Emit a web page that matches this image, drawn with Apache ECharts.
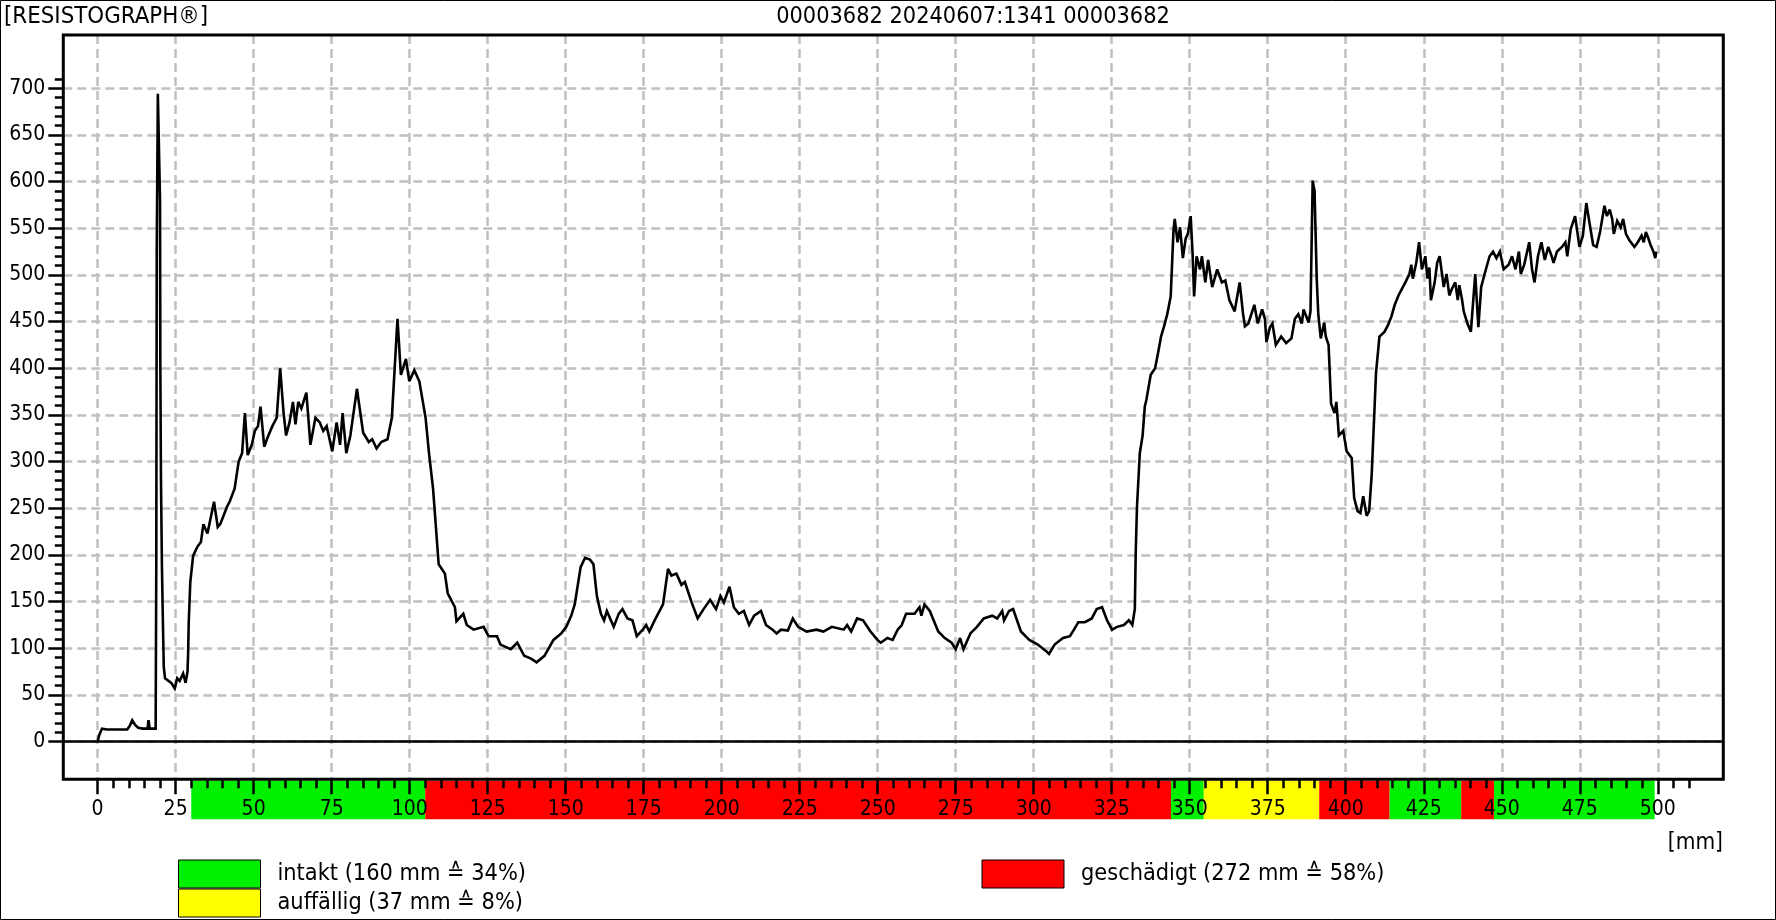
<!DOCTYPE html>
<html><head><meta charset="utf-8">
<script src="https://cdn.jsdelivr.net/npm/echarts@6/dist/echarts.min.js"></script>
<style>html,body{margin:0;padding:0;background:#fff}#c{width:1776px;height:920px}</style>
</head><body><div id="c"></div>
<script>
const headerLeft = '[RESISTOGRAPH®]';
const headerCenter = '00003682 20240607:1341 00003682';
const unitLabel = '[mm]';

const depthMm = [
0,0.5,1.4,3,5,7,9.5,10.3,11.1,12,
13,14.5,16,16.3,16.7,18.6,18.8,18.95,19.3,19.8,
20.0,20.1,20.3,20.6,20.9,21.2,21.6,23.6,24.7,25.5,
26.3,27.4,28.2,28.8,29.0,29.2,29.7,30.6,32.0,33.1,
33.9,35.2,37.3,38.5,39.3,41.5,42.3,43.9,45.2,46.3,
47.2,48.1,49.4,50.4,51.4,52.2,53.4,54.5,56.0,57.4,
58.5,59.6,60.4,61.5,62.6,63.4,64.3,65.3,66.9,68.2,
69.8,71.2,72.3,73.4,75.2,76.6,77.7,78.5,79.7,81.0,
83.1,83.6,85.1,86.9,88.0,89.4,90.9,92.9,94.3,96.1,
97.2,98.8,99.9,101.5,103.1,105.1,106.2,107.5,109.3,111.3,
112.2,114.5,115.0,117.2,118.3,120.5,123.7,125.3,128.0,129.1,
132.4,134.5,136.7,138.9,140.7,143.2,146.1,148.6,150.2,151.8,
152.9,154.8,156.2,157.8,158.9,160.0,161.3,162.3,163.2,165.4,
167.0,168.2,169.8,171.4,172.8,174.7,175.8,176.8,178.5,181.2,
182.8,183.9,185.5,187.1,188.2,190.4,192.3,194.2,196.3,198.2,
199.6,200.7,202.5,203.9,205.5,207.1,208.8,210.4,212.6,214.2,
216.3,217.6,219.0,221.2,222.8,224.5,227.2,230.4,232.6,235.3,
239.1,240.2,241.5,243.4,245.3,247.7,249.9,251.0,253.1,254.8,
256.4,257.7,259.1,261.8,263.4,264.0,265.0,266.7,269.4,271.5,
273.7,275.0,276.4,277.5,279.7,281.8,284.0,286.7,288.3,289.9,
290.5,292.1,293.4,295.9,298.6,301.3,304.0,304.9,306.7,309.4,
311.6,312.9,314.3,316.4,318.6,320.2,321.9,323.5,325.1,326.7,
328.9,330.5,331.6,332.4,332.7,333.1,334.0,334.9,335.6,336.1,
337.5,338.9,340.0,340.8,341.7,342.8,343.9,344.8,345.2,346.1,
346.9,347.8,348.7,349.4,350.3,350.9,351.4,352.2,353.3,353.9,
355.0,355.9,357.2,358.8,360.3,361.4,362.7,364.4,366.0,367.1,
367.7,368.8,370.7,371.8,373.2,374.1,374.6,375.7,376.5,377.6,
379.3,380.9,382.6,383.7,384.8,385.9,386.5,388.1,388.7,389.4,
390.0,390.7,391.2,392.0,393.1,393.6,394.5,395.3,396.4,397.0,
397.8,399.2,400.3,401.9,402.7,403.8,404.7,405.6,406.7,407.5,
408.3,409.1,409.7,410.8,412.4,413.5,414.6,415.7,416.9,419.1,
420.4,421.0,421.5,422.6,423.5,424.4,425.5,426.2,426.8,427.3,
428.5,429.3,430.1,431.4,432.3,433.2,434.0,435.1,435.9,436.4,
437.3,437.8,439.0,440.1,441.5,442.5,443.4,444.5,446.1,447.2,
448.3,449.4,450.6,452.2,453.3,454.4,455.5,456.1,457.2,458.8,
459.7,460.5,461.6,462.7,463.8,464.9,466.0,466.6,467.7,469.3,
470.4,471.0,472.1,473.5,474.9,476.0,477.1,478.2,479.3,480.4,
481.5,482.9,483.7,484.6,485.4,485.9,487.0,488.1,488.9,489.8,
490.9,492.5,493.6,494.8,495.5,496.2,497.0,497.7,498.6,499.2,
499.5];

const amplitude = [
0,7,14,13,13,13,13,17,23,18,
15,14,14,23,14,14,190,527,694,694,
580,402,281,190,132,80,68,63,57,68,
65,73,63,75,94,128,171,199,209,214,
233,223,257,230,233,252,257,271,300,309,
352,307,318,333,338,359,316,326,338,347,
400,352,328,342,364,340,364,357,374,318,
347,342,333,338,311,342,318,352,309,328,
378,378,331,321,324,314,321,324,347,453,
393,410,386,398,386,347,309,271,190,180,
159,144,129,137,125,120,123,113,113,104,
99,106,92,89,85,92,109,116,123,135,
147,187,197,195,190,156,137,130,140,123,
137,142,132,130,113,120,125,118,130,147,
185,178,180,168,171,149,132,142,152,142,
156,149,166,144,137,140,125,135,140,125,
120,116,120,119,132,123,118,120,118,123,
120,125,118,132,130,118,109,106,111,109,
120,125,137,137,144,135,147,140,118,111,
106,99,111,99,116,123,132,135,132,140,
130,140,142,118,109,104,97,94,104,111,
113,120,128,128,132,142,144,130,120,123,
125,130,125,142,204,252,309,328,359,366,
393,400,419,434,444,458,477,548,560,535,
551,518,539,544,563,524,477,520,506,520,
492,516,487,506,492,494,473,461,492,458,
445,448,468,448,463,453,428,444,448,425,
434,427,432,453,458,448,463,449,461,601,
590,496,458,432,449,434,425,362,352,364,
328,333,311,304,261,247,245,263,242,247,
285,347,395,434,439,446,455,468,478,492,
501,511,496,513,535,506,520,496,508,473,
492,513,520,487,501,478,485,492,473,489,
473,461,448,439,501,444,487,501,520,525,
518,525,506,511,520,506,525,501,511,535,
506,492,520,535,516,530,520,513,525,530,
535,520,549,563,530,542,577,554,532,530,
546,574,563,570,560,544,558,551,560,544,
537,530,535,542,535,546,539,532,525,518,
525];

const xTickLabels = [0,25,50,75,100,125,150,175,200,225,250,275,300,325,350,375,400,425,450,475,500];
const yTickLabels = [0,50,100,150,200,250,300,350,400,450,500,550,600,650,700];
const xMinorTicks = []; for (let v = 0; v <= 510; v += 5) xMinorTicks.push(v);
const yMinorTicks = []; for (let v = 0; v <= 710; v += 10) yMinorTicks.push(v);

const bandStart = [30, 105, 344, 354.5, 391.5, 414, 437, 447.5];
const bandEnd   = [105, 344, 354.5, 391.5, 414, 437, 447.5, 499];
const bandClass = ['intakt','geschädigt','intakt','auffällig','geschädigt','intakt','geschädigt','intakt'];

const classNames = ['intakt', 'auffällig', 'geschädigt'];
const classMm = [160, 37, 272];
const classPct = [34, 8, 58];
const classColors = ['#00f000', '#ffff00', '#ff0000'];

const FONT = '"DejaVu Sans Condensed", "DejaVu Sans", sans-serif';
const X_MIN = -11, X_MAX = 521, Y_MIN = -40.3, Y_MAX = 757;
const GL = 63.3, GT = 35, GW = 1660, GH = 744.3;

function renderBand(params, api) {
  const a = api.coord([api.value(0), 1]);
  const b = api.coord([api.value(1), 0]);
  return {type: 'rect', shape: {x: a[0], y: a[1], width: b[0] - a[0], height: b[1] - a[1]},
          style: {fill: api.visual('color')}};
}
function legendText(name) {
  const k = classNames.indexOf(name);
  return name + ' (' + classMm[k] + ' mm \u2259 ' + classPct[k] + '%)';
}
const tickStyle = {color: '#000', width: 2.5};
const gridLine = {color: '#c0c0c0', width: 2.5, type: [9, 5]};
const titleStyle = {fontSize: 23.3, fontWeight: 'normal', color: '#000', fontFamily: FONT, lineHeight: 24};
const legendBase = {
  orient: 'vertical', itemGap: 0, itemWidth: 82, itemHeight: 28, padding: 0, icon: 'rect',
  selectedMode: false, itemStyle: {borderColor: '#000', borderWidth: 1},
  textStyle: {fontSize: 23.3, color: '#000', fontFamily: FONT, padding: [0, 0, 0, 12]},
  formatter: legendText
};

const chart = echarts.init(document.getElementById('c'), null, {renderer: 'canvas'});
chart.setOption({
  animation: false,
  backgroundColor: '#fff',
  textStyle: {fontFamily: FONT},
  title: [
    {text: headerLeft, left: 4, top: 5, padding: 0, textStyle: Object.assign({}, titleStyle, {fontSize: 23.8})},
    {text: headerCenter, left: 973, top: 5, padding: 0, textAlign: 'center', textStyle: titleStyle},
    {text: unitLabel, left: 1723, top: 831, padding: 0, textAlign: 'right', textStyle: Object.assign({}, titleStyle, {fontSize: 22.5})}
  ],
  grid: [
    {left: GL, top: GT, width: GW, height: GH, show: true, borderColor: '#000', borderWidth: 3,
     backgroundColor: 'transparent', z: 3},
    {left: GL, top: 780.8, width: GW, height: 38.5, show: false}
  ],
  xAxis: [
    {gridIndex: 0, type: 'value', min: X_MIN, max: X_MAX, position: 'bottom', z: 1,
     axisLine: {show: false, onZero: false},
     axisTick: {show: true, length: 15, customValues: xTickLabels, lineStyle: tickStyle},
     axisLabel: {show: true, customValues: xTickLabels, margin: 30.2, verticalAlign: 'middle',
                 fontSize: 21, color: '#000', fontFamily: FONT},
     splitLine: {show: true, lineStyle: gridLine}},
    {gridIndex: 0, type: 'value', min: X_MIN, max: X_MAX, position: 'bottom', z: 1,
     axisLine: {show: false, onZero: false},
     axisTick: {show: true, length: 9, customValues: xMinorTicks, lineStyle: tickStyle},
     axisLabel: {show: false}, splitLine: {show: false}},
    {gridIndex: 1, type: 'value', min: X_MIN, max: X_MAX, show: false}
  ],
  yAxis: [
    {gridIndex: 0, type: 'value', min: Y_MIN, max: Y_MAX, position: 'left', z: 1,
     axisLine: {show: false, onZero: false},
     axisTick: {show: true, length: 15, customValues: yTickLabels, lineStyle: tickStyle},
     axisLabel: {show: true, customValues: yTickLabels, margin: 18, fontSize: 21, color: '#000', fontFamily: FONT},
     splitLine: {show: true, lineStyle: gridLine}},
    {gridIndex: 0, type: 'value', min: Y_MIN, max: Y_MAX, position: 'left', z: 1,
     axisLine: {show: false, onZero: false},
     axisTick: {show: true, length: 8.5, customValues: yMinorTicks, lineStyle: tickStyle},
     axisLabel: {show: false}, splitLine: {show: false}},
    {gridIndex: 1, type: 'value', min: 0, max: 1, show: false}
  ],
  legend: [
    Object.assign({}, legendBase, {data: ['intakt', 'auffällig'], left: 178, top: 859.5}),
    Object.assign({}, legendBase, {data: ['geschädigt'], left: 981.5, top: 859.5})
  ],
  series: [
    {type: 'line', name: 'Bohrwiderstand', xAxisIndex: 0, yAxisIndex: 0, z: 2,
     data: depthMm.map((x, i) => [x, amplitude[i]]),
     symbol: 'none', showSymbol: false, smooth: false,
     lineStyle: {color: '#000', width: 2.6, join: 'miter', miterLimit: 3}, itemStyle: {color: '#000'},
     markLine: {silent: true, symbol: 'none', animation: false, label: {show: false},
                lineStyle: {color: '#000', width: 2.5, type: 'solid'}, data: [{yAxis: 0}]}}
  ].concat(classNames.map((nm, k) => ({
    type: 'custom', name: nm, coordinateSystem: 'cartesian2d', xAxisIndex: 2, yAxisIndex: 2,
    z: 0, clip: false, silent: true, itemStyle: {color: classColors[k]},
    data: bandStart.map((s, i) => [s, bandEnd[i], bandClass[i]]).filter(d => d[2] === nm).map(d => [d[0], d[1]]),
    renderItem: renderBand
  }))),
  graphic: [
    {type: 'rect', silent: true, z: 10, shape: {x: 0.5, y: 0.5, width: 1775, height: 919},
     style: {fill: 'none', stroke: '#000', lineWidth: 1}}
  ]
});
</script>
</body></html>
